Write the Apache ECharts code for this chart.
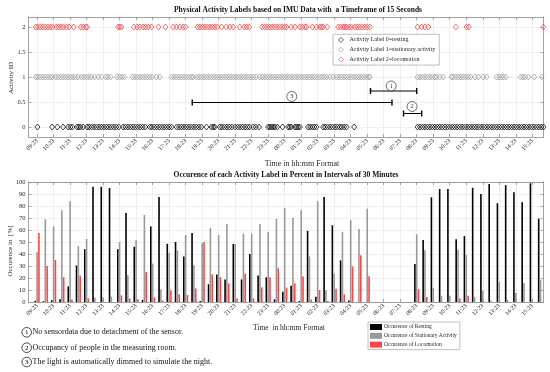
<!DOCTYPE html>
<html><head><meta charset="utf-8">
<script src="https://cdn.jsdelivr.net/npm/echarts@6/dist/echarts.min.js"></script>
<style>html,body{margin:0;padding:0;background:#fff}#c{width:550px;height:372px}</style>
</head><body><div id="c"></div>
<script>
// ---- axis ticks (hours after 09:23) ----
const tickHours = [0,1,2,3,4,5,6,7,8,9,10,11,12,13,14,15,16,17,18,19,20,21,22,23,24,25,26,27,28,29,30];
const tickLabels = ['09:23','10:23','11:23','12:23','13:23','14:23','15:23','16:23','17:23','18:23','19:23','20:23','21:23','22:23','23:23','00:23','01:23','02:23','03:23','04:23','05:23','06:23','07:23','08:23','09:23','10:23','11:23','12:23','13:23','14:23','15:23'];
const activityTicks = [0,0.5,1,1.5,2];
const percentTicks = [0,10,20,30,40,50,60,70,80,90,100];

// ---- top chart: times (hours after 09:23) of labelled frames ----
const restingTimes = [0.02,0.91,1.23,1.58,1.88,2.02,2.14,2.42,2.53,2.63,2.79,3.03,
3.15,3.3,3.45,3.6,3.75,3.9,4.05,4.2,4.35,4.5,4.65,4.8,4.95,
5.21,5.35,5.5,5.65,5.8,5.95,6.1,6.25,6.4,6.55,6.83,
6.95,7.1,7.25,7.4,7.55,7.7,7.85,8.0,8.15,
8.45,8.6,8.75,8.9,9.05,9.2,9.35,9.5,9.65,9.8,9.95,
10.26,10.57,10.67,10.77,
11.07,11.2,11.35,11.5,11.65,11.8,
12.0,12.15,12.3,12.45,12.6,12.75,12.88,
13.1,13.25,13.45,14.0,14.1,14.2,14.3,14.4,
14.55,14.87,15.21,15.31,15.41,15.62,15.72,15.82,15.92,
16.42,16.55,16.68,16.8,16.93,
17.33,17.45,17.6,17.75,17.9,18.05,18.2,18.34,18.45,18.6,18.75,19.21,
23.05,23.2,23.35,23.5,23.65,23.8,23.95,24.1,24.25,24.4,24.55,24.7,24.85,25.0,25.15,25.3,25.45,25.6,25.75,25.9,
26.05,26.2,26.35,26.5,26.65,26.8,26.95,27.1,27.25,27.4,27.55,27.7,27.85,28.0,28.15,28.3,28.45,28.6,28.75,28.9,
29.05,29.2,29.35,29.5,29.65,29.8,29.95,30.1,30.25,30.4,30.55,30.68];
const stationaryTimes = [-0.08,0.05,0.2,0.35,0.5,0.65,0.8,0.93,
1.13,1.28,1.43,1.58,1.73,1.88,2.03,2.18,2.33,2.48,
2.69,2.84,2.99,3.14,3.29,
3.49,3.7,3.9,4.16,4.3,4.46,
4.85,5.0,5.15,5.3,
5.78,5.93,6.08,6.23,6.38,6.53,6.68,6.83,6.98,
7.23,7.43,
8.14,8.29,8.44,8.59,8.74,8.89,9.04,9.19,9.34,9.45,
9.66,9.81,9.96,10.11,10.26,10.41,10.56,10.71,10.86,11.01,11.16,11.31,11.46,11.61,11.76,11.91,12.06,12.21,12.36,12.51,12.66,12.81,12.96,13.11,13.26,
13.5,13.65,13.8,13.95,14.1,14.25,14.4,14.55,14.7,14.85,15.0,15.15,15.3,15.45,15.6,15.75,15.9,16.05,16.2,16.35,16.5,16.65,16.8,16.95,17.1,17.25,17.4,17.54,
17.74,17.94,
18.14,18.29,18.44,18.59,18.74,18.89,19.04,19.19,19.34,19.49,19.64,19.79,19.94,20.09,20.16,
23.05,23.2,23.35,23.5,23.65,23.8,23.95,24.1,24.2,
24.4,24.6,25.1,25.2,
25.37,25.52,25.67,25.82,25.97,26.12,26.27,
26.53,26.73,27.03,27.23,
27.84,27.99,28.14,28.24,28.4,
29.29,29.43,29.56,29.76,30.12,30.57,30.7];
const locomotionTimes = [-0.08,0.05,0.2,0.35,0.5,0.65,0.8,0.93,
1.17,1.3,1.45,1.6,1.78,1.94,2.22,
2.65,2.8,2.95,3.03,
4.91,5.01,5.11,
5.86,6.06,6.22,6.42,6.57,6.73,
6.93,7.35,7.78,
8.24,8.44,8.65,8.85,9.0,
9.72,9.87,10.02,10.17,10.32,10.47,10.62,10.77,10.92,
11.17,11.47,11.68,11.88,12.28,
12.55,12.7,12.85,
13.64,13.79,13.94,14.09,14.24,14.39,14.54,14.69,14.84,14.99,15.11,
15.41,15.62,15.92,16.07,16.22,16.32,
16.69,16.93,17.13,17.23,17.33,17.58,
18.24,18.39,18.54,18.65,18.75,18.91,19.05,
19.25,19.4,19.55,19.7,19.85,20.0,20.16,
23.05,23.29,23.49,23.7,
25.37,26.02,26.16,
30.67];

// ---- top chart annotations ----
const annotationIds = ['1','2','3'];
const annotationStart = [20.2, 22.2, 9.4];
const annotationEnd = [23.0, 23.3, 21.5];
const annotationLevel = [0.72, 0.27, 0.49];
const annotationLabelX = [21.45, 22.72, 15.43];
const annotationLabelY = [0.82, 0.41, 0.61];
const noteTexts = ['No sensordata due to detachment of the sensor.','Occupancy of people in the measuring room.','The light is automatically dimmed to simulate the night.'];

// ---- bottom chart: 30-minute bins (hours after 09:23) ----
const binHours = [0,0.5,1,1.5,2,2.5,3,3.5,4,4.5,5,5.5,6,6.5,7,7.5,8,8.5,9,9.5,10,10.5,11,11.5,12,12.5,13,13.5,14,14.5,15,15.5,16,16.5,17,17.5,18,18.5,19,19.5,20,20.5,21,21.5,22,22.5,23,23.5,24,24.5,25,25.5,26,26.5,27,27.5,28,28.5,29,29.5,30,30.5];
const restingPct = [1,0.7,1.5,2.3,13,30.5,44,96,96,95,44,74.2,46,1.8,63,87.5,48.5,50,38,57.5,0.8,14.8,23,18.8,48.3,18.8,40,22,20.6,2.2,8.5,13.5,0.8,59.3,4.4,87.6,64,34.7,1.2,0,0,null,null,null,null,null,31.6,51.6,87.2,94.2,94.2,52.2,55,95.2,89.9,98.3,82.3,97.4,91.5,83.2,98.9,69.5];
const stationaryPct = [41.5,69,63,76.5,84,46.5,52.5,3.5,4,4.5,50,22.2,51.5,72.5,32,10.5,41,43,55.8,30.7,49,61.8,55.8,65,48.3,57,57,65,58.3,69.3,78.2,70.2,76.5,38,84,9.8,23.8,58.2,68.2,60.8,77.8,null,null,null,null,null,56.5,43.2,11.8,5.2,5.3,43.8,39,4.3,9.5,1.2,16.8,1.7,7.6,15.9,2.8,18.5];
const locomotionPct = [57.5,30,35,20.7,2,22,3,0,0,0,5.5,3,2.2,25,3.8,1.2,9.5,6.3,5.8,11.3,50,23,20.6,15.5,3,23.8,3,12.2,20.6,28,12,15.4,21.2,2,10,0.8,11,6.4,29.7,38.9,21.4,null,null,null,null,null,10.7,4.2,0,0,0,3,5.3,0,0,0,0,0,0,0,0,0];

const FONT = 'Liberation Serif';
const AXC = '#8a8a8a';
const TXT = '#262626';
const xMin = -0.52, xMax = 30.68;
const labelOf = v => { const i = tickHours.indexOf(v); return i >= 0 ? tickLabels[i] : ''; };

function xAxisFor(gridIndex, main) {
  return {
    type: 'value', gridIndex, min: xMin, max: xMax, position: main ? 'bottom' : 'top',
    axisLine: { show: true, onZero: false, lineStyle: { color: AXC, width: 0.8 } },
    axisTick: { show: true, inside: true, length: 3, customValues: tickHours, lineStyle: { color: AXC, width: 0.7 } },
    axisLabel: { show: main, customValues: tickHours, formatter: labelOf, rotate: 45, fontSize: 6, margin: 3, color: TXT, fontFamily: FONT },
    splitLine: { show: main, lineStyle: { color: '#e8e8e8', width: 0.7 } }
  };
}
function yAxisFor(gridIndex, main, min, max, ticks) {
  return {
    type: 'value', gridIndex, min, max, position: main ? 'left' : 'right',
    axisLine: { show: true, onZero: false, lineStyle: { color: AXC, width: 0.8 } },
    axisTick: { show: true, inside: true, length: 3, customValues: ticks, lineStyle: { color: AXC, width: 0.7 } },
    axisLabel: { show: main, customValues: ticks, formatter: v => String(v), fontSize: 6.5, margin: 3, color: TXT, fontFamily: FONT },
    splitLine: { show: main, lineStyle: { color: '#e8e8e8', width: 0.7 } }
  };
}

const scatterStyle = (name, times, level, color) => ({
  name, type: 'scatter', xAxisIndex: 0, yAxisIndex: 0,
  data: times.map(t => [t, level]),
  symbol: 'diamond', symbolSize: [5, 6],
  itemStyle: { color: 'rgba(255,255,255,0)', borderColor: color, borderWidth: 0.9 },
  silent: true, z: 3
});

const annotationSeries = annotationIds.map((id, k) => ({
  type: 'line', xAxisIndex: 0, yAxisIndex: 0,
  data: [[annotationStart[k], annotationLevel[k]], [annotationEnd[k], annotationLevel[k]]],
  symbol: 'rect', symbolSize: [1.4, 6], showSymbol: true,
  lineStyle: { color: '#000', width: 1.2 }, itemStyle: { color: '#000' }, z: 5, silent: true
}));
const annotationMarks = {
  type: 'scatter', xAxisIndex: 0, yAxisIndex: 0,
  data: annotationIds.map((id, k) => [annotationLabelX[k], annotationLabelY[k]]),
  symbol: 'circle', symbolSize: 10,
  itemStyle: { color: '#fff', borderColor: '#000', borderWidth: 0.7 },
  label: { show: true, position: 'inside', formatter: p => annotationIds[p.dataIndex], fontSize: 7, color: '#000', fontFamily: FONT },
  z: 6, silent: true
};

const barSeries = (name, values, color) => ({
  name, type: 'bar', xAxisIndex: 2, yAxisIndex: 2,
  data: binHours.map((h, i) => [h, values[i]]),
  barWidth: 1.6, barGap: '15%',
  itemStyle: { color }, silent: true
});

const graphic = [
  { type: 'text', x: 298, y: 10, style: { text: 'Physical Activity Labels based on IMU Data with  a Timeframe of 15 Seconds', fontSize: 7.5, fontWeight: 'bold', fontFamily: FONT, fill: '#111', align: 'center', verticalAlign: 'middle' } },
  { type: 'text', x: 286, y: 175, style: { text: 'Occurence of each Activity Label in Percent in Intervals of 30 Minutes', fontSize: 7.5, fontWeight: 'bold', fontFamily: FONT, fill: '#111', align: 'center', verticalAlign: 'middle' } },
  { type: 'text', x: 302, y: 163.5, style: { text: 'Time in hh:mm Format', fontSize: 8, fontFamily: FONT, fill: TXT, align: 'center', verticalAlign: 'middle' } },
  { type: 'text', x: 289, y: 328, style: { text: 'Time  in hh:mm Format', fontSize: 7.5, fontFamily: FONT, fill: TXT, align: 'center', verticalAlign: 'middle' } },
  { type: 'text', x: 11, y: 78, rotation: Math.PI / 2, style: { text: 'Activity ID', fontSize: 7, fontFamily: FONT, fill: TXT, align: 'center', verticalAlign: 'middle' } },
  { type: 'text', x: 10, y: 251, rotation: Math.PI / 2, style: { text: 'Occurence in  [%]', fontSize: 7, fontFamily: FONT, fill: TXT, align: 'center', verticalAlign: 'middle' } }
];
const noteY = [332.3, 347.7, 362];
noteTexts.forEach((t, k) => {
  graphic.push({ type: 'circle', shape: { cx: 26.7, cy: noteY[k], r: 4.8 }, style: { fill: 'none', stroke: '#000', lineWidth: 0.7 } });
  graphic.push({ type: 'text', x: 26.7, y: noteY[k] + 0.3, style: { text: annotationIds[k], fontSize: 7, fontFamily: FONT, fill: '#000', align: 'center', verticalAlign: 'middle' } });
  graphic.push({ type: 'text', x: 32.5, y: noteY[k], style: { text: t, fontSize: 8, fontFamily: FONT, fill: '#111', align: 'left', verticalAlign: 'middle' } });
});

const option = {
  animation: false,
  backgroundColor: '#fff',
  grid: [
    { left: 28.5, right: 6.5, top: 17, height: 120 },
    { left: 28.5, right: 6.5, top: 182, height: 120 }
  ],
  xAxis: [xAxisFor(0, true), xAxisFor(0, false), xAxisFor(1, true), xAxisFor(1, false)],
  yAxis: [yAxisFor(0, true, -0.2, 2.2, activityTicks), yAxisFor(0, false, -0.2, 2.2, activityTicks),
          yAxisFor(1, true, 0, 100, percentTicks), yAxisFor(1, false, 0, 100, percentTicks)],
  legend: [
    { data: ['Activity Label 0=resting', 'Activity Label 1=stationary activity', 'Activity Label 2=locomotion'],
      orient: 'vertical', left: 333, top: 34.3, itemWidth: 5, itemHeight: 5, itemGap: 3.8, padding: [2.6, 4, 2.6, 5],
      backgroundColor: '#fff', borderColor: '#b0b0b0', borderWidth: 0.8, icon: 'diamond', selectedMode: false,
      itemStyle: { color: 'rgba(255,255,255,0)', borderWidth: 0.8 },
      textStyle: { fontSize: 6, fontFamily: FONT, color: TXT, padding: [0, 0, 0, 1] } },
    { data: ['Occurence of Resting', 'Occurence of Stationary Activity', 'Occurence of Locomotion'],
      orient: 'vertical', left: 368, top: 322, itemWidth: 12, itemHeight: 6, itemGap: 2.8, padding: [2, 3, 2, 2],
      backgroundColor: '#fff', borderColor: '#b0b0b0', borderWidth: 0.8, icon: 'rect', selectedMode: false,
      textStyle: { fontSize: 5.5, fontFamily: FONT, color: TXT, padding: [0, 0, 0, -3] } }
  ],
  series: [
    scatterStyle('Activity Label 0=resting', restingTimes, 0, '#000'),
    scatterStyle('Activity Label 1=stationary activity', stationaryTimes, 1, '#9b9b9b'),
    scatterStyle('Activity Label 2=locomotion', locomotionTimes, 2, '#ff3b3b'),
    ...annotationSeries,
    annotationMarks,
    barSeries('Occurence of Resting', restingPct, '#000'),
    barSeries('Occurence of Stationary Activity', stationaryPct, '#999'),
    barSeries('Occurence of Locomotion', locomotionPct, '#ff4545')
  ],
  graphic
};
const chart = echarts.init(document.getElementById('c'));
chart.setOption(option);
</script>
</body></html>
